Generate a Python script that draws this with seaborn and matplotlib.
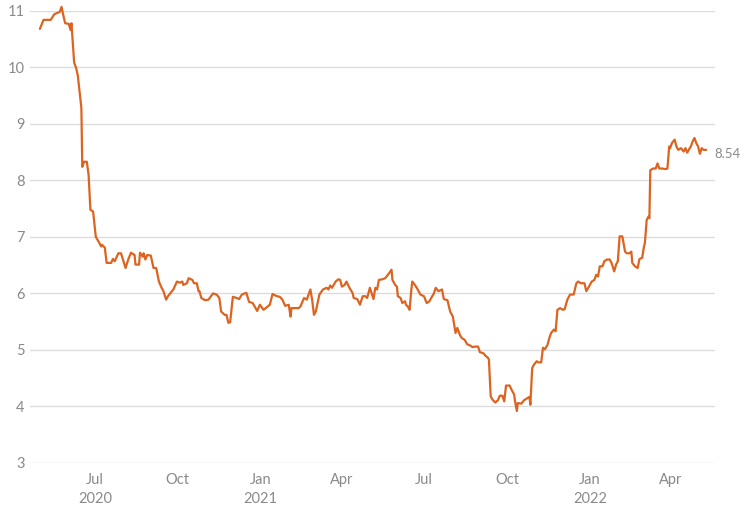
import pandas as pd
import numpy as np
import matplotlib
matplotlib.use("Agg")
import matplotlib.pyplot as plt
import matplotlib.dates as mdates
import seaborn as sns

dates = [
    "2020-05-01", "2020-05-05", "2020-05-13", "2020-05-17", "2020-05-23", "2020-05-25",
    "2020-05-27", "2020-05-29", "2020-06-02", "2020-06-04", "2020-06-05", "2020-06-08",
    "2020-06-10", "2020-06-12", "2020-06-16", "2020-06-17", "2020-06-19", "2020-06-22",
    "2020-06-24", "2020-06-26", "2020-06-29", "2020-07-02", "2020-07-05", "2020-07-08",
    "2020-07-09", "2020-07-12", "2020-07-14", "2020-07-19", "2020-07-21", "2020-07-23",
    "2020-07-27", "2020-07-30", "2020-08-04", "2020-08-07", "2020-08-10", "2020-08-14",
    "2020-08-15", "2020-08-19", "2020-08-20", "2020-08-23", "2020-08-24", "2020-08-26",
    "2020-08-28", "2020-09-01", "2020-09-04", "2020-09-07", "2020-09-10", "2020-09-13",
    "2020-09-15", "2020-09-18", "2020-09-20", "2020-09-23", "2020-09-26", "2020-09-30",
    "2020-10-03", "2020-10-06", "2020-10-07", "2020-10-11", "2020-10-13", "2020-10-17",
    "2020-10-19", "2020-10-22", "2020-10-24", "2020-10-25", "2020-10-27", "2020-10-31",
    "2020-11-04", "2020-11-09", "2020-11-13", "2020-11-16", "2020-11-18", "2020-11-22",
    "2020-11-24", "2020-11-26", "2020-11-28", "2020-12-01", "2020-12-05", "2020-12-08",
    "2020-12-11", "2020-12-14", "2020-12-16", "2020-12-19", "2020-12-23", "2020-12-28",
    "2020-12-31", "2021-01-04", "2021-01-08", "2021-01-11", "2021-01-14", "2021-01-19",
    "2021-01-22", "2021-01-25", "2021-01-28", "2021-02-01", "2021-02-03", "2021-02-04",
    "2021-02-08", "2021-02-12", "2021-02-14", "2021-02-18", "2021-02-21", "2021-02-25",
    "2021-02-27", "2021-03-01", "2021-03-03", "2021-03-07", "2021-03-11", "2021-03-15",
    "2021-03-17", "2021-03-19", "2021-03-21", "2021-03-25", "2021-03-28", "2021-03-30",
    "2021-04-01", "2021-04-04", "2021-04-06", "2021-04-09", "2021-04-13", "2021-04-14",
    "2021-04-18", "2021-04-21", "2021-04-24", "2021-04-27", "2021-04-29", "2021-05-02",
    "2021-05-04", "2021-05-06", "2021-05-08", "2021-05-10", "2021-05-12", "2021-05-16",
    "2021-05-19", "2021-05-22", "2021-05-23", "2021-05-26", "2021-05-27", "2021-05-30",
    "2021-06-01", "2021-06-02", "2021-06-05", "2021-06-07", "2021-06-10", "2021-06-11",
    "2021-06-13", "2021-06-15", "2021-06-17", "2021-06-18", "2021-06-21", "2021-06-24",
    "2021-06-27", "2021-07-01", "2021-07-04", "2021-07-07", "2021-07-09", "2021-07-12",
    "2021-07-14", "2021-07-17", "2021-07-21", "2021-07-23", "2021-07-27", "2021-07-30",
    "2021-08-02", "2021-08-05", "2021-08-07", "2021-08-10", "2021-08-12", "2021-08-15",
    "2021-08-18", "2021-08-21", "2021-08-24", "2021-08-27", "2021-08-30", "2021-09-01",
    "2021-09-05", "2021-09-07", "2021-09-10", "2021-09-11", "2021-09-13", "2021-09-15",
    "2021-09-18", "2021-09-21", "2021-09-23", "2021-09-26", "2021-09-28", "2021-09-30",
    "2021-10-04", "2021-10-06", "2021-10-09", "2021-10-10", "2021-10-12", "2021-10-13",
    "2021-10-17", "2021-10-20", "2021-10-24", "2021-10-26", "2021-10-27", "2021-10-29",
    "2021-10-31", "2021-11-03", "2021-11-05", "2021-11-08", "2021-11-10", "2021-11-12",
    "2021-11-15", "2021-11-17", "2021-11-19", "2021-11-22", "2021-11-24", "2021-11-26",
    "2021-11-29", "2021-12-02", "2021-12-04", "2021-12-07", "2021-12-09", "2021-12-10",
    "2021-12-14", "2021-12-17", "2021-12-19", "2021-12-22", "2021-12-26", "2021-12-28",
    "2021-12-31", "2022-01-03", "2022-01-06", "2022-01-08", "2022-01-10", "2022-01-12",
    "2022-01-15", "2022-01-17", "2022-01-20", "2022-01-23", "2022-01-25", "2022-01-28",
    "2022-01-30", "2022-02-01", "2022-02-03", "2022-02-06", "2022-02-09", "2022-02-11",
    "2022-02-14", "2022-02-16", "2022-02-17", "2022-02-20", "2022-02-23", "2022-02-25",
    "2022-02-28", "2022-03-02", "2022-03-03", "2022-03-05", "2022-03-07", "2022-03-08",
    "2022-03-09", "2022-03-12", "2022-03-15", "2022-03-17", "2022-03-19", "2022-03-22",
    "2022-03-26", "2022-03-28", "2022-03-30", "2022-03-31", "2022-04-02", "2022-04-05",
    "2022-04-07", "2022-04-09", "2022-04-12", "2022-04-15", "2022-04-17", "2022-04-19",
    "2022-04-21", "2022-04-23", "2022-04-25", "2022-04-27", "2022-04-29", "2022-05-01",
    "2022-05-03", "2022-05-05", "2022-05-07", "2022-05-10",
]

values = [
    10.68, 10.84, 10.84, 10.94, 10.98, 11.07,
    10.92, 10.78, 10.77, 10.66, 10.78, 10.08,
    10.00, 9.86, 9.28, 8.24, 8.33, 8.33,
    8.10, 7.48, 7.45, 7.00, 6.92, 6.83,
    6.86, 6.81, 6.54, 6.54, 6.61, 6.57,
    6.71, 6.71, 6.45, 6.60, 6.72, 6.68,
    6.51, 6.51, 6.72, 6.65, 6.71, 6.60,
    6.68, 6.67, 6.45, 6.45, 6.21, 6.10,
    6.04, 5.89, 5.95, 6.01, 6.07, 6.21,
    6.19, 6.21, 6.15, 6.18, 6.27, 6.24,
    6.18, 6.18, 6.04, 6.04, 5.92, 5.88,
    5.89, 6.00, 5.98, 5.92, 5.68, 5.62,
    5.62, 5.48, 5.49, 5.94, 5.92, 5.90,
    5.98, 6.00, 6.01, 5.85, 5.83, 5.69,
    5.80, 5.71, 5.76, 5.80, 5.99, 5.95,
    5.94, 5.89, 5.78, 5.80, 5.59, 5.74,
    5.74, 5.74, 5.77, 5.92, 5.89, 6.07,
    5.88, 5.62, 5.68, 5.98, 6.07, 6.10,
    6.07, 6.14, 6.10, 6.21, 6.25, 6.24,
    6.12, 6.15, 6.21, 6.11, 6.00, 5.92,
    5.90, 5.80, 5.95, 5.95, 5.92, 6.10,
    6.00, 5.90, 6.10, 6.07, 6.24, 6.25,
    6.27, 6.33, 6.35, 6.42, 6.24, 6.15,
    6.12, 5.95, 5.92, 5.83, 5.86, 5.80,
    5.77, 5.71, 6.07, 6.21, 6.15, 6.07,
    5.98, 5.95, 5.83, 5.86, 5.92, 6.00,
    6.10, 6.04, 6.07, 5.90, 5.88, 5.68,
    5.59, 5.30, 5.39, 5.26, 5.21, 5.18,
    5.10, 5.08, 5.05, 5.06, 5.06, 4.96,
    4.94, 4.90, 4.86, 4.83, 4.18, 4.12,
    4.07, 4.11, 4.19, 4.19, 4.09, 4.37,
    4.37, 4.30, 4.21, 4.09, 3.92, 4.06,
    4.05, 4.11, 4.15, 4.17, 4.03, 4.68,
    4.74, 4.80, 4.78, 4.78, 5.04, 5.01,
    5.09, 5.21, 5.30, 5.36, 5.33, 5.71,
    5.74, 5.71, 5.72, 5.89, 5.95, 5.98,
    5.98, 6.18, 6.21, 6.18, 6.18, 6.04,
    6.12, 6.21, 6.24, 6.33, 6.30, 6.48,
    6.48, 6.57, 6.60, 6.60, 6.54, 6.39,
    6.51, 6.57, 7.01, 7.01, 6.74, 6.71,
    6.71, 6.74, 6.54, 6.48, 6.45, 6.61,
    6.63, 6.83, 6.89, 7.30, 7.36, 7.33,
    8.18, 8.21, 8.21, 8.30, 8.21, 8.21,
    8.20, 8.21, 8.60, 8.57, 8.66, 8.72,
    8.60, 8.54, 8.57, 8.51, 8.57, 8.49,
    8.55, 8.60, 8.69, 8.75, 8.66, 8.60,
    8.47, 8.57, 8.54, 8.54,
]

tick_dates = ["2020-07-01", "2020-10-01", "2021-01-01", "2021-04-01",
              "2021-07-01", "2021-10-01", "2022-01-01", "2022-04-01"]
tick_labels = ["Jul\n2020", "Oct", "Jan\n2021", "Apr", "Jul", "Oct", "Jan\n2022", "Apr"]
y_ticks = [3, 4, 5, 6, 7, 8, 9, 10, 11]
last_label = "8.54"

sns.set_theme(style="white")
plt.rcParams["font.family"] = ["Lato", "DejaVu Sans"]

df = pd.DataFrame({"date": pd.to_datetime(dates), "value": values})

fig = plt.figure(figsize=(7.44, 5.15), dpi=100)
ax = fig.add_axes([0.0403, 0.101, 0.921, 0.878])

sns.lineplot(data=df, x="date", y="value", ax=ax, color="#dc6420",
             linewidth=1.6, clip_on=False, zorder=3)

ax.set_ylim(3, 11)
ax.set_xlim(pd.Timestamp("2020-04-20"), pd.Timestamp("2022-05-20"))
ax.set_yticks(y_ticks)
ax.set_yticklabels([str(v) for v in y_ticks])
ax.set_xticks(pd.to_datetime(tick_dates))
ax.set_xticklabels(tick_labels)

ax.grid(axis="y", color="#dcdcdc", linewidth=1.0)
ax.grid(axis="x", visible=False)
for s in ax.spines.values():
    s.set_visible(False)
ax.tick_params(axis="both", length=0, colors="#8a8a8a", labelsize=10.5)
ax.tick_params(axis="y", pad=4)
ax.tick_params(axis="x", pad=7)
for lbl in ax.get_xticklabels():
    lbl.set_linespacing(1.5)
ax.set_xlabel("")
ax.set_ylabel("")

ax.annotate(last_label, xy=(df["date"].iloc[-1], df["value"].iloc[-1]),
            xytext=(6, -3), textcoords="offset points", ha="left", va="center",
            color="#8a8a8a", fontsize=9.5, annotation_clip=False)

fig.savefig("out.png", dpi=100)
